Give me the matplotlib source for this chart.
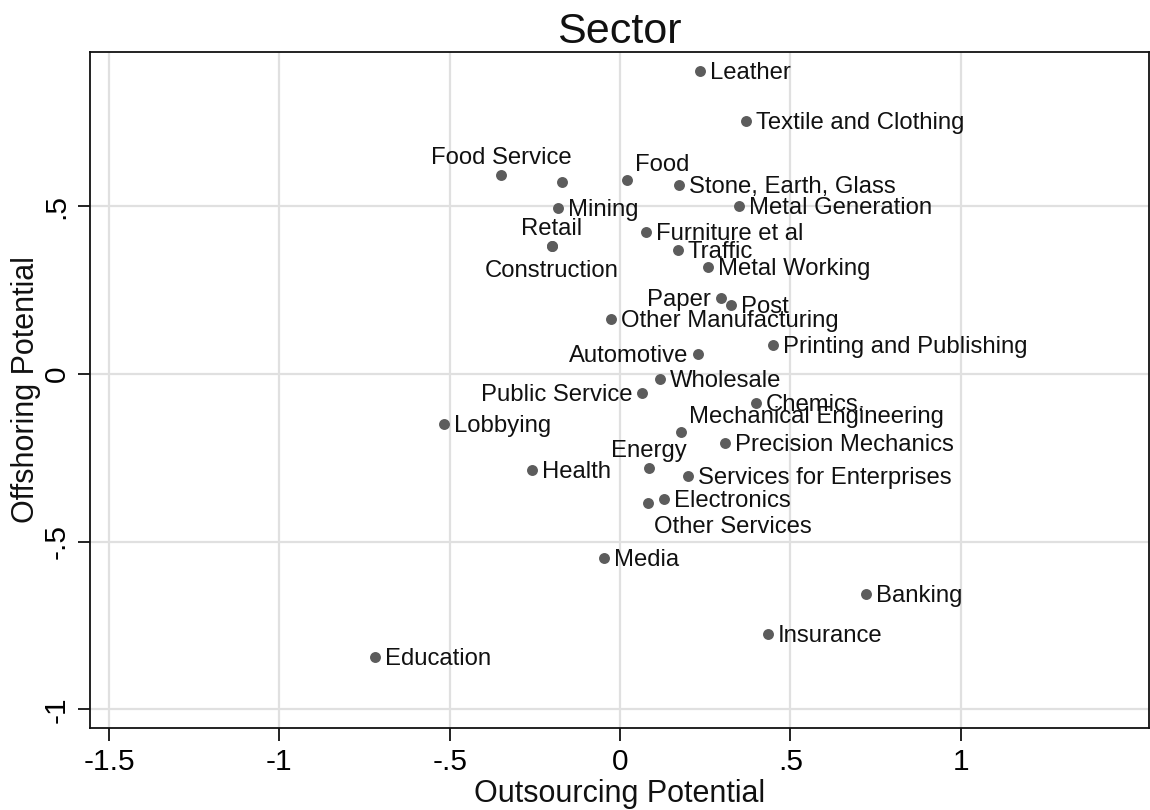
import matplotlib
matplotlib.use("Agg")
import matplotlib.pyplot as plt

sectors = ["Leather", "Textile and Clothing", "Food Service", "", "Food", "Mining",
           "Retail", "Construction", "Stone, Earth, Glass", "Metal Generation",
           "Furniture et al", "Traffic", "Metal Working", "Paper", "Post",
           "Other Manufacturing", "Printing and Publishing", "Automotive", "Wholesale",
           "Public Service", "Chemics.", "Mechanical Engineering", "Precision Mechanics",
           "Energy", "Services for Enterprises", "Electronics", "Other Services", "Media",
           "Banking", "Insurance", "Lobbying", "Health", "Education"]
outsourcing = [0.236, 0.371, -0.348, -0.171, 0.021, -0.183,
               -0.201, -0.201, 0.174, 0.349,
               0.077, 0.169, 0.258, 0.296, 0.325,
               -0.026, 0.450, 0.230, 0.117,
               0.065, 0.399, 0.180, 0.307,
               0.084, 0.201, 0.130, 0.083, -0.046,
               0.721, 0.435, -0.517, -0.258, -0.719]
offshoring = [0.903, 0.754, 0.594, 0.571, 0.578, 0.494,
              0.380, 0.380, 0.563, 0.501,
              0.423, 0.370, 0.318, 0.226, 0.206,
              0.164, 0.086, 0.060, -0.014,
              -0.057, -0.086, -0.174, -0.205,
              -0.282, -0.305, -0.372, -0.386, -0.548,
              -0.657, -0.777, -0.148, -0.288, -0.843]

x_ticks = [-1.5, -1, -0.5, 0, 0.5, 1]
x_ticklabels = ["-1.5", "-1", "-.5", "0", ".5", "1"]
y_ticks = [-1, -0.5, 0, 0.5]
y_ticklabels = ["-1", "-.5", "0", ".5"]

# label clock positions (Stata-style), default 3 o'clock
label_pos = {"Food Service": 12, "Retail": 12, "Construction": 6, "Paper": 9,
             "Automotive": 9, "Public Service": 9, "Energy": 12, "Food": 1,
             "Mechanical Engineering": 1, "Other Services": 5}

plt.rcParams['font.family'] = ['Liberation Sans', 'DejaVu Sans']

fig = plt.figure(figsize=(11.5, 8.1), dpi=100)
ax = fig.add_axes([90/1150, 1-728.3/810, (1149-90)/1150, (728.3-51.7)/810])

ax.set_xlim(-1.556, 1.553)
ax.set_ylim(-1.057, 0.961)
ax.set_xticks(x_ticks)
ax.set_xticklabels(x_ticklabels)
ax.set_yticks(y_ticks)
ax.set_yticklabels(y_ticklabels, rotation=90, va='center')
ax.grid(True, color='#e0e0e0', linewidth=1.6)
ax.set_axisbelow(True)
for s in ax.spines.values():
    s.set_color('#111111')
    s.set_linewidth(1.3)
ax.tick_params(axis='both', length=9, width=1.3, color='#111111', labelsize=21.5, pad=5)

ax.scatter(outsourcing, offshoring, s=62, color='#5c5c5c', zorder=3, linewidths=0)

fs = 17.2
for name, xv, yv in zip(sectors, outsourcing, offshoring):
    if not name:
        continue
    p = label_pos.get(name, 3)
    if p == 3:
        off, ha, va = (10, -2), 'left', 'center'
    elif p == 9:
        off, ha, va = (-10, -2), 'right', 'center'
    elif p == 12:
        off, ha, va = (0, 6), 'center', 'bottom'
    elif p == 6:
        off, ha, va = (0, -14), 'center', 'top'
    elif p == 1:
        off, ha, va = (8, 4), 'left', 'bottom'
    else:  # 5
        off, ha, va = (6, -13), 'left', 'top'
    ax.annotate(name, (xv, yv), xytext=off, textcoords='offset pixels',
                ha=ha, va=va, fontsize=fs, color='#111111', zorder=4)

ax.set_xlabel("Outsourcing Potential", fontsize=22, labelpad=2, color='#111111')
ax.set_ylabel("Offshoring Potential", fontsize=22, labelpad=1, color='#111111')
ax.set_title("Sector", fontsize=31, pad=6, color='#111111')

fig.savefig("out.png", dpi=100)
